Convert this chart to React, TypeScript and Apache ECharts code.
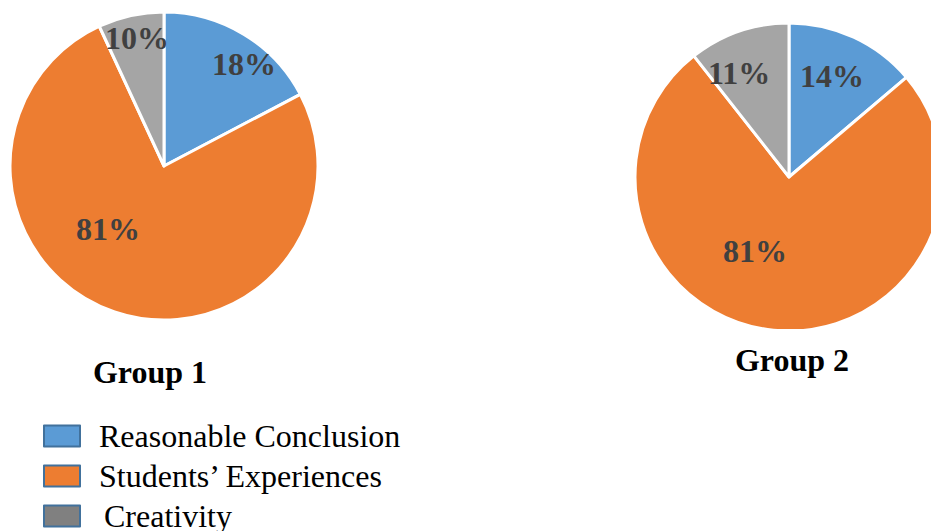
import React, { useEffect, useRef } from "react";
import * as echarts from "echarts";

// Categories
const categories = ["Reasonable Conclusion", "Students’ Experiences", "Creativity"];
// Slice shares as drawn
const group1Shares = [17.3, 75.8, 6.9];
const group2Shares = [13.8, 75.6, 10.6];
// Printed percentage labels
const group1Labels = ["18%", "81%", "10%"];
const group2Labels = ["14%", "81%", "11%"];
const groupTitles = ["Group 1", "Group 2"];

const sliceColors = ["#5B9BD5", "#ED7D31", "#A5A5A5"];
const legendColors = ["#5B9BD5", "#ED7D31", "#808080"];
const legendTextPad = [14, 14, 19];
const SERIF = '"Liberation Serif", "Times New Roman", serif';

// label anchor points (px)
const labelPos1 = [[244, 64], [108, 229], [137, 38]];
const labelPos2 = [[832, 76], [755, 251], [739, 73]];

export default function App() {
  const ref = useRef<HTMLDivElement>(null);
  useEffect(() => {
    document.body.style.margin = "0";
    const chart = echarts.init(ref.current!, null, { renderer: "svg" });
    const mkSeries = (shares: number[], labels: string[], center: number[], pos: number[][]) => ({
      type: "pie",
      center,
      radius: 154,
      startAngle: 90,
      clockwise: true,
      avoidLabelOverlap: false,
      itemStyle: { borderColor: "#ffffff", borderWidth: 3 },
      emphasis: { disabled: true },
      label: {
        show: true,
        position: "inside",
        formatter: (p: any) => labels[p.dataIndex],
        fontFamily: SERIF,
        fontWeight: "bold",
        fontSize: 32,
        color: "#404040",
        align: "center",
        verticalAlign: "middle",
      },
      labelLine: { show: false },
      labelLayout: (p: any) => ({ x: pos[p.dataIndex][0], y: pos[p.dataIndex][1], align: "center", verticalAlign: "middle" }),
      data: categories.map((name, i) => ({ name, value: shares[i], itemStyle: { color: sliceColors[i] } })),
    });
    chart.setOption({
      animation: false,
      legend: {
        orient: "vertical",
        left: 43,
        top: 416,
        height: 130,
        padding: 0,
        itemWidth: 36,
        itemHeight: 21,
        itemGap: 0,
        icon: "rect",
        selectedMode: false,
        data: categories.map((name, i) => ({
          name,
          itemStyle: { color: legendColors[i], borderColor: "#41719C", borderWidth: 2 },
          textStyle: { padding: [0, 0, 0, legendTextPad[i]] },
        })),
        textStyle: {
          fontFamily: SERIF,
          fontSize: 32,
          color: "#000000",
          lineHeight: 40,
        },
      },
      graphic: [
        { type: "text", x: 150, y: 372, z: 10, style: { text: groupTitles[0], font: `bold 32px ${SERIF}`, fill: "#000", textAlign: "center", textVerticalAlign: "middle" } },
        { type: "text", x: 792, y: 360, z: 10, style: { text: groupTitles[1], font: `bold 32px ${SERIF}`, fill: "#000", textAlign: "center", textVerticalAlign: "middle" } },
        { type: "rect", shape: { x: 620, y: 329, width: 311, height: 12 }, z: 5, style: { fill: "#ffffff" } },
      ],
      series: [
        mkSeries(group1Shares, group1Labels, [164, 166], labelPos1),
        mkSeries(group2Shares, group2Labels, [789, 177], labelPos2),
      ],
    });
    return () => chart.dispose();
  }, []);
  return <div ref={ref} style={{ width: 931, height: 531 }} />;
}
